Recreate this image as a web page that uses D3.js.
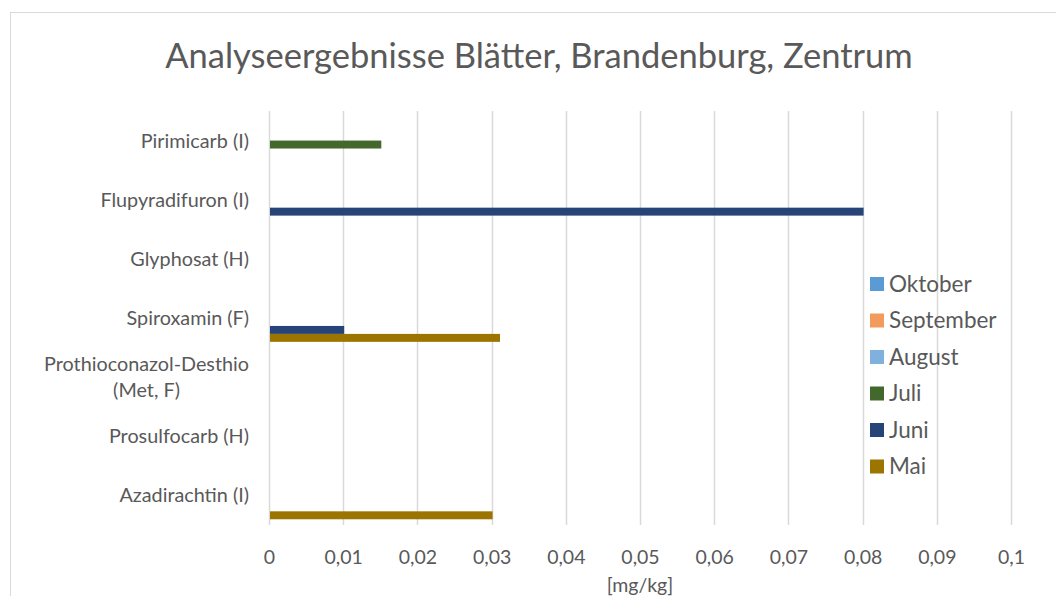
<!DOCTYPE html>
<html>
<head>
<meta charset="utf-8">
<script src="https://cdn.jsdelivr.net/npm/d3@7"></script>
<style>
  body { margin: 0; background: white; }
  text { font-family: Lato, "Open Sans", sans-serif; fill: #595959; }
</style>
</head>
<body>
<div id="graf"></div>
<script>
// Daten
const kategorien = [
  "Pirimicarb (I)",
  "Flupyradifuron (I)",
  "Glyphosat (H)",
  "Spiroxamin (F)",
  "Prothioconazol-Desthio (Met, F)",
  "Prosulfocarb (H)",
  "Azadirachtin (I)"
]
const monate = ["Mai", "Juni", "Juli", "August", "September", "Oktober"]
const farben = ["#9c7500", "#264478", "#43682b", "#7fb0de", "#f29b5c", "#5b9bd5"]
const mai = [null, null, null, 0.031, null, null, 0.03]
const juni = [null, 0.08, null, 0.01, null, null, null]
const juli = [0.015, null, null, null, null, null, null]
const august = [null, null, null, null, null, null, null]
const september = [null, null, null, null, null, null, null]
const oktober = [null, null, null, null, null, null, null]
const werte = [mai, juni, juli, august, september, oktober]
const xTicks = [0, 0.01, 0.02, 0.03, 0.04, 0.05, 0.06, 0.07, 0.08, 0.09, 0.1]
const titel = "Analyseergebnisse Blätter, Brandenburg, Zentrum"
const xTitel = "[mg/kg]"

const draw = () => {
  // Maße
  const anchoTotal = 1056
  const altoTotal = 596
  const margins = { top: 111, right: 45, bottom: 71, left: 269 }
  const ancho = anchoTotal - margins.left - margins.right
  const alto = altoTotal - margins.top - margins.bottom

  const svg = d3.select("#graf")
    .append("svg")
    .attr("width", anchoTotal)
    .attr("height", altoTotal)

  // Rahmen
  svg.append("rect")
    .attr("x", 10.5)
    .attr("y", 12.5)
    .attr("width", anchoTotal)
    .attr("height", altoTotal)
    .attr("fill", "white")
    .attr("stroke", "#d9d9d9")

  // Titel
  svg.append("text")
    .attr("x", 539)
    .attr("y", 68)
    .attr("text-anchor", "middle")
    .style("font-size", "34.5px")
    .text(titel)

  const g = svg.append("g")
    .attr("transform", `translate(${margins.left}, ${margins.top})`)

  // Skalen
  const x = d3.scaleLinear().domain([0, 0.1]).range([0, ancho])
  const y = d3.scaleBand().domain(kategorien).range([0, alto])
  const yInner = d3.scaleBand()
    .domain(monate.slice().reverse())
    .range([0, y.bandwidth()])
    .paddingOuter(0.72)

  // Gitterlinien
  g.selectAll(".grid")
    .data(xTicks)
    .enter()
    .append("line")
    .attr("class", "grid")
    .attr("x1", (d) => Math.round(x(d)) + 0.5)
    .attr("x2", (d) => Math.round(x(d)) + 0.5)
    .attr("y1", 0)
    .attr("y2", alto)
    .attr("stroke", "#d9d9d9")
    .attr("stroke-width", 1.5)

  // Balken
  const balken = []
  werte.forEach((serie, i) => {
    serie.forEach((v, j) => {
      if (v != null) balken.push({ monat: monate[i], kat: kategorien[j], wert: v, farbe: farben[i] })
    })
  })

  g.selectAll(".bar")
    .data(balken)
    .enter()
    .append("rect")
    .attr("class", "bar")
    .attr("x", x(0) + 1)
    .attr("y", (d) => y(d.kat) + yInner(d.monat))
    .attr("width", (d) => x(d.wert) - x(0))
    .attr("height", yInner.bandwidth())
    .attr("fill", (d) => d.farbe)

  // Kategorien (umbrechen, Zeilen zentriert wie in Excel)
  const maxBreite = 232
  const labels = g.selectAll(".cat")
    .data(kategorien)
    .enter()
    .append("text")
    .attr("class", "cat")
    .attr("text-anchor", "middle")
    .style("font-size", "19.8px")

  labels.each(function (d) {
    const el = d3.select(this)
    const worte = d.split(" ")
    const zeilen = []
    let zeile = []
    const probe = el.append("tspan")
    const breite = (t) => { probe.text(t); return probe.node().getComputedTextLength() }
    worte.forEach((w) => {
      if (breite([...zeile, w].join(" ")) > maxBreite && zeile.length) {
        zeilen.push(zeile.join(" "))
        zeile = [w]
      } else {
        zeile.push(w)
      }
    })
    zeilen.push(zeile.join(" "))
    const blockBreite = d3.max(zeilen, breite)
    probe.remove()
    const lh = 25.5
    const cy = y(d) + y.bandwidth() / 2
    zeilen.forEach((z, k) => {
      el.append("tspan")
        .attr("x", -20 - blockBreite / 2)
        .attr("y", cy + (k - (zeilen.length - 1) / 2) * lh)
        .attr("dy", "0.35em")
        .text(z)
    })
  })

  // X-Achse
  const de = d3.formatLocale({ decimal: ",", thousands: ".", grouping: [3], currency: ["", " €"] })
  const xAxisGroup = g.append("g")
    .attr("transform", `translate(0, ${alto})`)
    .call(d3.axisBottom(x).tickValues(xTicks).tickFormat(de.format("~g")).tickSize(0).tickPadding(25))

  xAxisGroup.select(".domain").remove()
  xAxisGroup.selectAll("text")
    .style("font-size", "19.5px")
    .style("font-family", "Lato, 'Open Sans', sans-serif")
    .attr("fill", "#595959")

  svg.append("text")
    .attr("x", margins.left + ancho / 2)
    .attr("y", 592)
    .attr("text-anchor", "middle")
    .style("font-size", "19.5px")
    .text(xTitel)

  // Legende
  const legende = svg.append("g")
    .attr("transform", "translate(870, 284)")

  const items = legende.selectAll(".item")
    .data(monate.slice().reverse())
    .enter()
    .append("g")
    .attr("class", "item")
    .attr("transform", (d, i) => `translate(0, ${i * 36.5})`)

  items.append("rect")
    .attr("x", 0)
    .attr("y", -7)
    .attr("width", 14)
    .attr("height", 14)
    .attr("fill", (d) => farben[monate.indexOf(d)])

  items.append("text")
    .attr("x", 19)
    .attr("y", 0)
    .attr("dy", "0.35em")
    .style("font-size", "22.5px")
    .text((d) => d)
}

draw()
</script>
</body>
</html>
